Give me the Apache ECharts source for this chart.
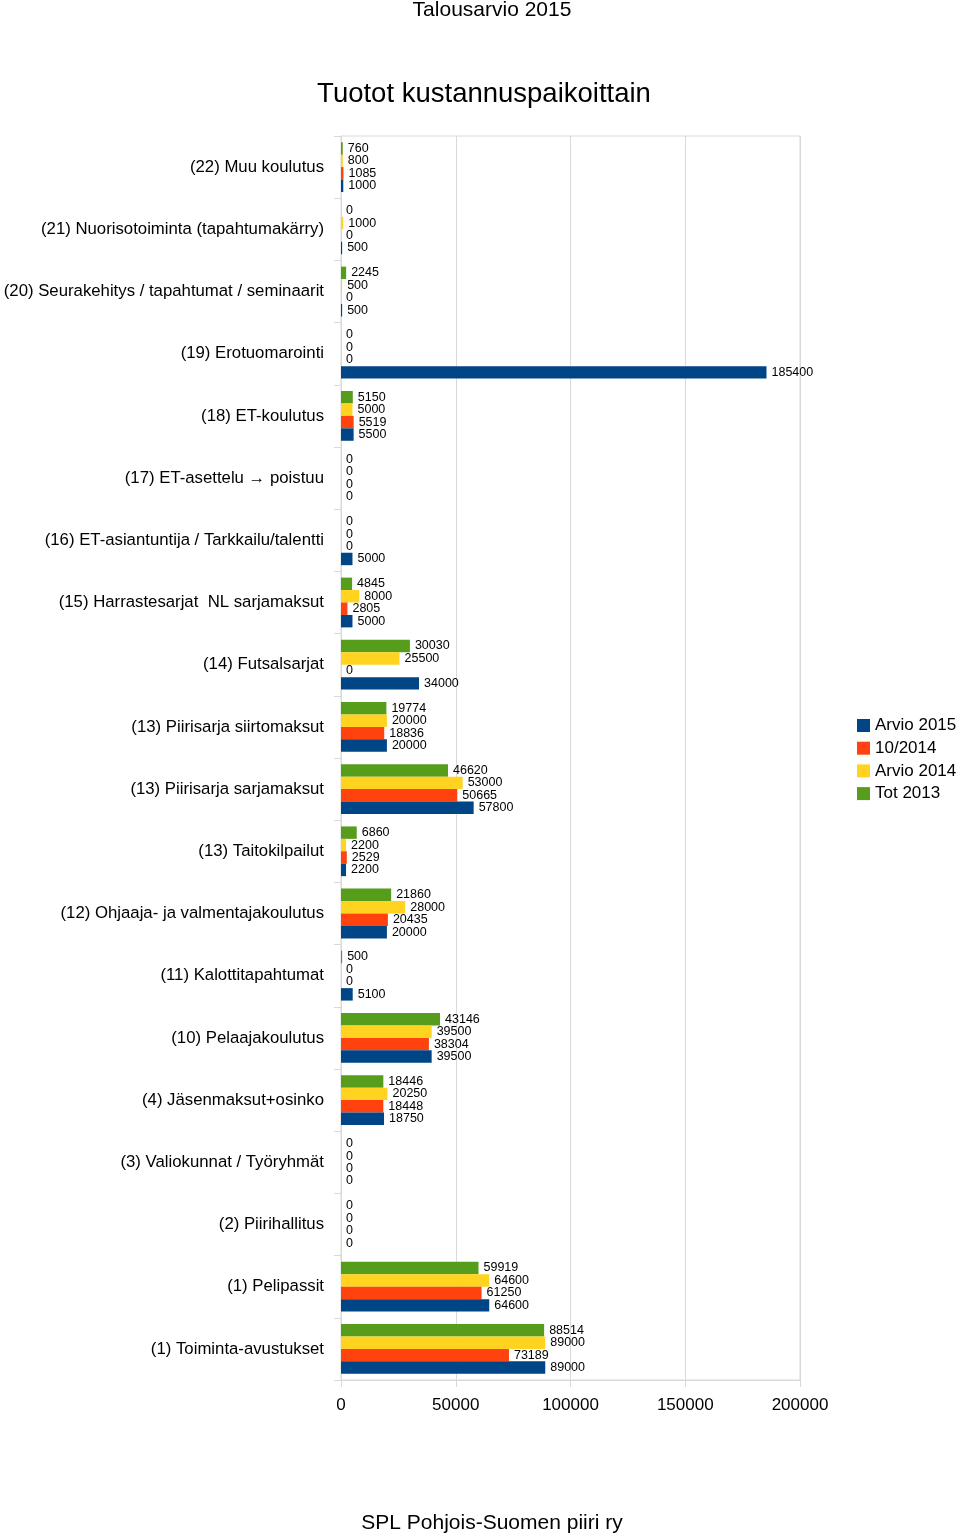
<!DOCTYPE html>
<html><head><meta charset="utf-8">
<script src="https://cdn.jsdelivr.net/npm/echarts@6/dist/echarts.min.js"></script>
<style>html,body{margin:0;padding:0;background:#fff}#c{width:960px;height:1534px}</style>
</head><body><div id="c"></div>
<script>
const categories = [
  "(22) Muu koulutus",
  "(21) Nuorisotoiminta (tapahtumakärry)",
  "(20) Seurakehitys / tapahtumat / seminaarit",
  "(19) Erotuomarointi",
  "(18) ET-koulutus",
  "(17) ET-asettelu → poistuu",
  "(16) ET-asiantuntija / Tarkkailu/talentti",
  "(15) Harrastesarjat  NL sarjamaksut",
  "(14) Futsalsarjat",
  "(13) Piirisarja siirtomaksut",
  "(13) Piirisarja sarjamaksut",
  "(13) Taitokilpailut",
  "(12) Ohjaaja- ja valmentajakoulutus",
  "(11) Kalottitapahtumat",
  "(10) Pelaajakoulutus",
  "(4) Jäsenmaksut+osinko",
  "(3) Valiokunnat / Työryhmät",
  "(2) Piirihallitus",
  "(1) Pelipassit",
  "(1) Toiminta-avustukset"
];
const tot2013   = [760, 0, 2245, 0, 5150, 0, 0, 4845, 30030, 19774, 46620, 6860, 21860, 500, 43146, 18446, 0, 0, 59919, 88514];
const arvio2014 = [800, 1000, 500, 0, 5000, 0, 0, 8000, 25500, 20000, 53000, 2200, 28000, 0, 39500, 20250, 0, 0, 64600, 89000];
const oct2014   = [1085, 0, 0, 0, 5519, 0, 0, 2805, 0, 18836, 50665, 2529, 20435, 0, 38304, 18448, 0, 0, 61250, 73189];
const arvio2015 = [1000, 500, 500, 185400, 5500, 0, 5000, 5000, 34000, 20000, 57800, 2200, 20000, 5100, 39500, 18750, 0, 0, 64600, 89000];
const xTicks = [0, 50000, 100000, 150000, 200000];

const FONT = "'Liberation Sans', Arial, sans-serif";
const GRID = '#d9d9d9';
const chart = echarts.init(document.getElementById('c'));
function mk(name, data, color) {
  return {
    name, type: 'bar', data,
    barGap: '0%', barCategoryGap: '20%',
    itemStyle: { color },
    label: { show: true, position: 'right', distance: 5, color: '#000', fontSize: 12.5, fontFamily: FONT },
    animation: false
  };
}
chart.setOption({
  animation: false,
  backgroundColor: '#fff',
  textStyle: { fontFamily: FONT },
  title: [
    { text: 'Talousarvio 2015', left: 492, top: 0, padding: 0, textAlign: 'center', textStyle: { fontSize: 21, fontWeight: 'normal', color: '#000', fontFamily: FONT } },
    { text: 'Tuotot kustannuspaikoittain', left: 484, top: 80, padding: 0, textAlign: 'center', textStyle: { fontSize: 27.5, fontWeight: 'normal', color: '#000', fontFamily: FONT } },
    { text: 'SPL Pohjois-Suomen piiri ry', left: 492, top: 1513, padding: 0, textAlign: 'center', textStyle: { fontSize: 21, fontWeight: 'normal', color: '#000', fontFamily: FONT } }
  ],
  legend: {
    orient: 'vertical', left: 857, top: 717, padding: 0,
    itemWidth: 13, itemHeight: 13, itemGap: 5.7, itemTextGap: 6,
    icon: 'rect',
    data: ['Arvio 2015', '10/2014', 'Arvio 2014', 'Tot 2013'],
    textStyle: { fontSize: 17, color: '#000', fontFamily: FONT }
  },
  grid: { left: 341, right: 160, top: 136, bottom: 154, show: true, borderColor: GRID, borderWidth: 1 },
  xAxis: {
    type: 'value', min: xTicks[0], max: xTicks[xTicks.length - 1], interval: xTicks[1] - xTicks[0],
    axisLine: { show: true, lineStyle: { color: GRID } },
    axisTick: { show: true, length: 7, lineStyle: { color: GRID } },
    splitLine: { show: true, lineStyle: { color: GRID } },
    axisLabel: { fontSize: 17, color: '#000', margin: 17, fontFamily: FONT, formatter: v => String(v) }
  },
  yAxis: {
    type: 'category', inverse: true, data: categories,
    axisLine: { show: true, lineStyle: { color: GRID } },
    axisTick: { show: true, length: 7, lineStyle: { color: GRID } },
    axisLabel: { fontSize: 16.75, color: '#000', margin: 17, fontFamily: FONT }
  },
  series: [
    mk('Tot 2013', tot2013, '#579d1c'),
    mk('Arvio 2014', arvio2014, '#ffd320'),
    mk('10/2014', oct2014, '#ff420e'),
    mk('Arvio 2015', arvio2015, '#004586')
  ]
});
</script></body></html>
